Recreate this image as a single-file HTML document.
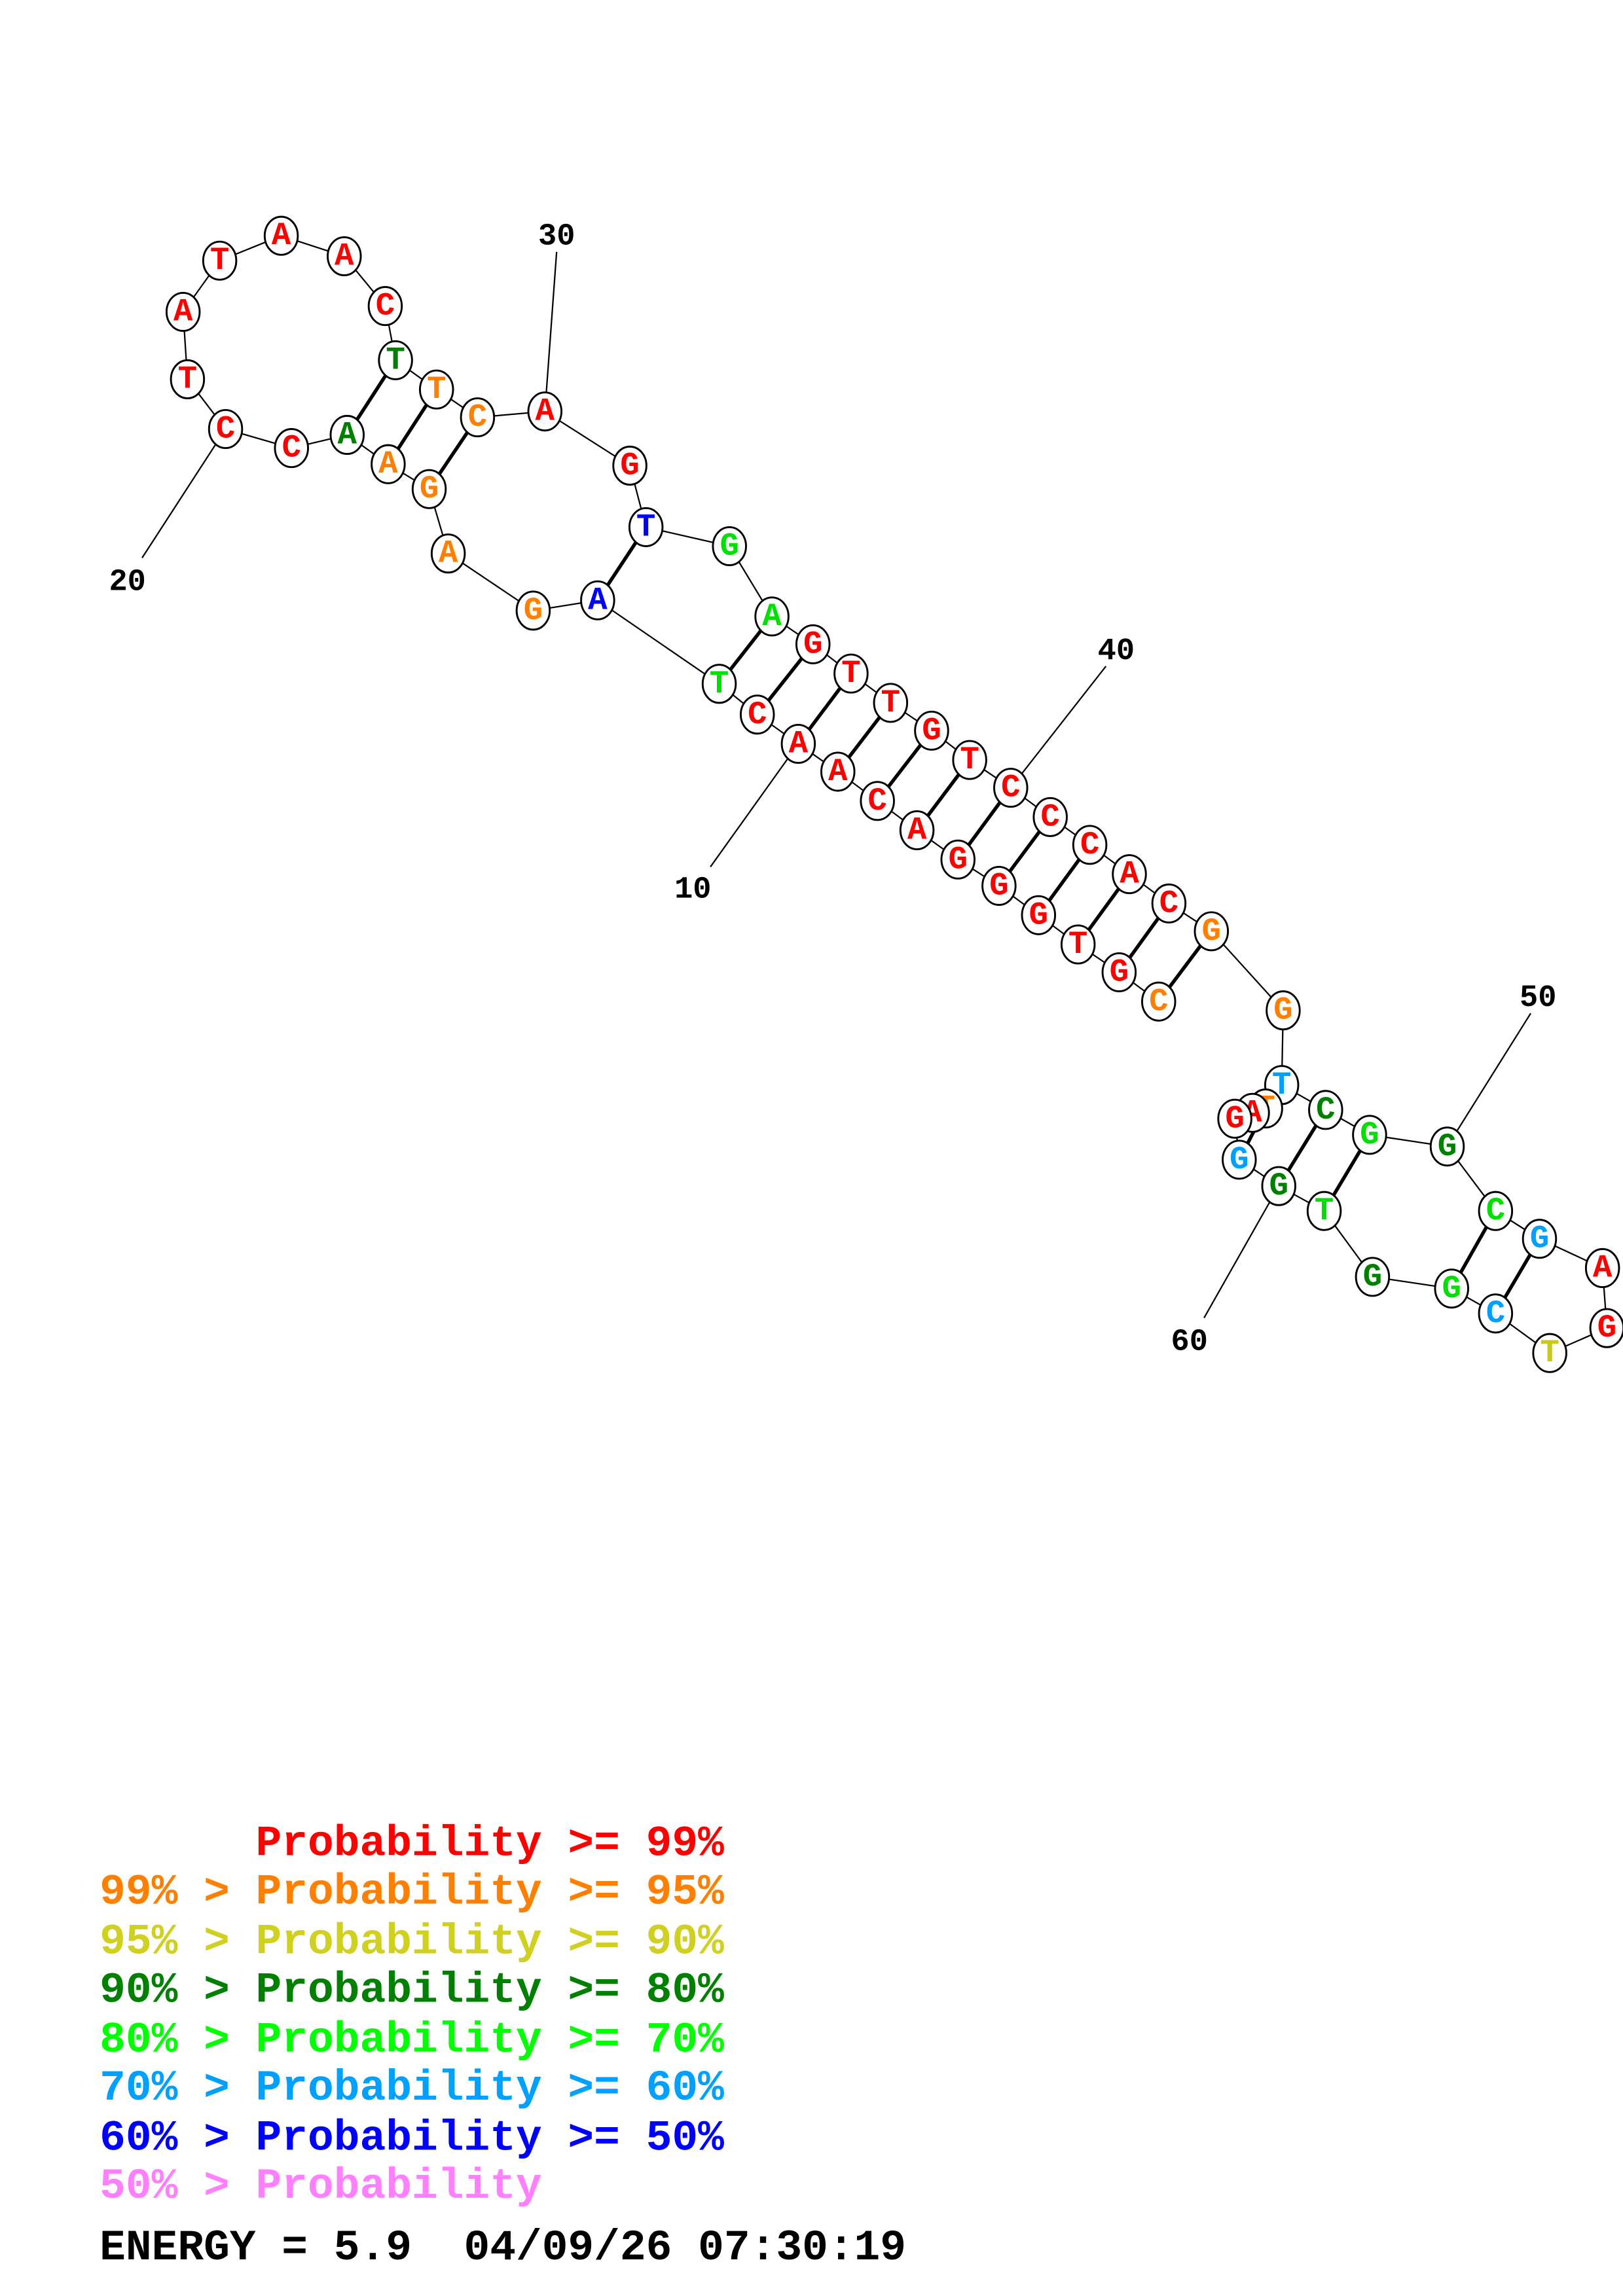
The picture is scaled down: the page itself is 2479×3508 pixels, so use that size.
<!DOCTYPE html>
<html><head><meta charset="utf-8"><style>
html,body{margin:0;padding:0;background:#fff;}
svg{display:block;}
.n text{font-family:"Liberation Mono",monospace;font-weight:bold;font-size:22px;text-anchor:middle;dominant-baseline:central;}
.lb{font-family:"Liberation Mono",monospace;font-weight:bold;font-size:21px;text-anchor:middle;fill:#000;}
.lg{font-family:"Liberation Mono",monospace;font-weight:bold;font-size:29.6px;white-space:pre;}
</style></head><body>
<svg width="2479" height="3508" viewBox="0 0 1108 1568" preserveAspectRatio="none" xmlns="http://www.w3.org/2000/svg">
<g stroke="#000" stroke-width="1" fill="none">
<polyline points="791,684 764,664 736,645 709,625 682,605 654,587 626,567 599,547 572,527 545,508 517,488 491,467 408,410 364,417 306,378 293,334 265,317 237,297 199,306 154,293 128,259 125,213 150,178 192,161 235,175 263,209 270,246 298,266 326,285 372,281 430,318 441,360 498,373 527,421 555,440 581,460 608,480 636,499 662,519 690,538 717,558 744,577 771,597 798,617 827,636 876,690 875,741 905,758 935,775 988,783 1021,827 1051,846 1094,866 1097,907 1058,924 1021,897 991,880 937,872 904,827 873,810 846,792 843,764 855,760 864,757"/>
<line x1="154" y1="293" x2="97" y2="381"/>
<line x1="372" y1="281" x2="380" y2="172"/>
<line x1="690" y1="538" x2="755" y2="455"/>
<line x1="545" y1="508" x2="485" y2="592"/>
<line x1="988" y1="783" x2="1045" y2="692"/>
<line x1="873" y1="810" x2="822" y2="900"/>
</g>
<g stroke="#000" stroke-width="2.4">
<line x1="270" y1="246" x2="237" y2="297"/>
<line x1="298" y1="266" x2="265" y2="317"/>
<line x1="326" y1="285" x2="293" y2="334"/>
<line x1="441" y1="360" x2="408" y2="410"/>
<line x1="527" y1="421" x2="491" y2="467"/>
<line x1="555" y1="440" x2="517" y2="488"/>
<line x1="581" y1="460" x2="545" y2="508"/>
<line x1="608" y1="480" x2="572" y2="527"/>
<line x1="636" y1="499" x2="599" y2="547"/>
<line x1="662" y1="519" x2="626" y2="567"/>
<line x1="690" y1="538" x2="654" y2="587"/>
<line x1="717" y1="558" x2="682" y2="605"/>
<line x1="744" y1="577" x2="709" y2="625"/>
<line x1="771" y1="597" x2="736" y2="645"/>
<line x1="798" y1="617" x2="764" y2="664"/>
<line x1="827" y1="636" x2="791" y2="684"/>
<line x1="905" y1="758" x2="873" y2="810"/>
<line x1="935" y1="775" x2="904" y2="827"/>
<line x1="1021" y1="827" x2="991" y2="880"/>
<line x1="1051" y1="846" x2="1021" y2="897"/>
<line x1="864" y1="757" x2="846" y2="792"/>
</g>
<defs><ellipse id="c" rx="11.3" ry="13" fill="#fff" stroke="#000" stroke-width="1.3"/></defs>
<g class="n">
<g transform="translate(791,684)"><use href="#c"/><text fill="#ff8000">C</text></g>
<g transform="translate(764,664)"><use href="#c"/><text fill="#f00">G</text></g>
<g transform="translate(736,645)"><use href="#c"/><text fill="#f00">T</text></g>
<g transform="translate(709,625)"><use href="#c"/><text fill="#f00">G</text></g>
<g transform="translate(682,605)"><use href="#c"/><text fill="#f00">G</text></g>
<g transform="translate(654,587)"><use href="#c"/><text fill="#f00">G</text></g>
<g transform="translate(626,567)"><use href="#c"/><text fill="#f00">A</text></g>
<g transform="translate(599,547)"><use href="#c"/><text fill="#f00">C</text></g>
<g transform="translate(572,527)"><use href="#c"/><text fill="#f00">A</text></g>
<g transform="translate(545,508)"><use href="#c"/><text fill="#f00">A</text></g>
<g transform="translate(517,488)"><use href="#c"/><text fill="#f00">C</text></g>
<g transform="translate(491,467)"><use href="#c"/><text fill="#00e000">T</text></g>
<g transform="translate(408,410)"><use href="#c"/><text fill="#00f">A</text></g>
<g transform="translate(364,417)"><use href="#c"/><text fill="#ff8000">G</text></g>
<g transform="translate(306,378)"><use href="#c"/><text fill="#ff8000">A</text></g>
<g transform="translate(293,334)"><use href="#c"/><text fill="#ff8000">G</text></g>
<g transform="translate(265,317)"><use href="#c"/><text fill="#ff8000">A</text></g>
<g transform="translate(237,297)"><use href="#c"/><text fill="#008000">A</text></g>
<g transform="translate(199,306)"><use href="#c"/><text fill="#f00">C</text></g>
<g transform="translate(154,293)"><use href="#c"/><text fill="#f00">C</text></g>
<g transform="translate(128,259)"><use href="#c"/><text fill="#f00">T</text></g>
<g transform="translate(125,213)"><use href="#c"/><text fill="#f00">A</text></g>
<g transform="translate(150,178)"><use href="#c"/><text fill="#f00">T</text></g>
<g transform="translate(192,161)"><use href="#c"/><text fill="#f00">A</text></g>
<g transform="translate(235,175)"><use href="#c"/><text fill="#f00">A</text></g>
<g transform="translate(263,209)"><use href="#c"/><text fill="#f00">C</text></g>
<g transform="translate(270,246)"><use href="#c"/><text fill="#008000">T</text></g>
<g transform="translate(298,266)"><use href="#c"/><text fill="#ff8000">T</text></g>
<g transform="translate(326,285)"><use href="#c"/><text fill="#ff8000">C</text></g>
<g transform="translate(372,281)"><use href="#c"/><text fill="#f00">A</text></g>
<g transform="translate(430,318)"><use href="#c"/><text fill="#f00">G</text></g>
<g transform="translate(441,360)"><use href="#c"/><text fill="#00f">T</text></g>
<g transform="translate(498,373)"><use href="#c"/><text fill="#00e000">G</text></g>
<g transform="translate(527,421)"><use href="#c"/><text fill="#00e000">A</text></g>
<g transform="translate(555,440)"><use href="#c"/><text fill="#f00">G</text></g>
<g transform="translate(581,460)"><use href="#c"/><text fill="#f00">T</text></g>
<g transform="translate(608,480)"><use href="#c"/><text fill="#f00">T</text></g>
<g transform="translate(636,499)"><use href="#c"/><text fill="#f00">G</text></g>
<g transform="translate(662,519)"><use href="#c"/><text fill="#f00">T</text></g>
<g transform="translate(690,538)"><use href="#c"/><text fill="#f00">C</text></g>
<g transform="translate(717,558)"><use href="#c"/><text fill="#f00">C</text></g>
<g transform="translate(744,577)"><use href="#c"/><text fill="#f00">C</text></g>
<g transform="translate(771,597)"><use href="#c"/><text fill="#f00">A</text></g>
<g transform="translate(798,617)"><use href="#c"/><text fill="#f00">C</text></g>
<g transform="translate(827,636)"><use href="#c"/><text fill="#ff8000">G</text></g>
<g transform="translate(876,690)"><use href="#c"/><text fill="#ff8000">G</text></g>
<g transform="translate(875,741)"><use href="#c"/><text fill="#00a0ff">T</text></g>
<g transform="translate(905,758)"><use href="#c"/><text fill="#008000">C</text></g>
<g transform="translate(935,775)"><use href="#c"/><text fill="#00e000">G</text></g>
<g transform="translate(988,783)"><use href="#c"/><text fill="#008000">G</text></g>
<g transform="translate(1021,827)"><use href="#c"/><text fill="#00e000">C</text></g>
<g transform="translate(1051,846)"><use href="#c"/><text fill="#00a0ff">G</text></g>
<g transform="translate(1094,866)"><use href="#c"/><text fill="#f00">A</text></g>
<g transform="translate(1097,907)"><use href="#c"/><text fill="#f00">G</text></g>
<g transform="translate(1058,924)"><use href="#c"/><text fill="#c8c820">T</text></g>
<g transform="translate(1021,897)"><use href="#c"/><text fill="#00a0ff">C</text></g>
<g transform="translate(991,880)"><use href="#c"/><text fill="#00e000">G</text></g>
<g transform="translate(937,872)"><use href="#c"/><text fill="#008000">G</text></g>
<g transform="translate(904,827)"><use href="#c"/><text fill="#00e000">T</text></g>
<g transform="translate(873,810)"><use href="#c"/><text fill="#008000">G</text></g>
<g transform="translate(864,757)"><use href="#c"/><text fill="#ff8000">T</text></g>
<g transform="translate(855,760)"><use href="#c"/><text fill="#f00">A</text></g>
<g transform="translate(843,764)"><use href="#c"/><text fill="#f00">G</text></g>
<g transform="translate(846,792)"><use href="#c"/><text fill="#00a0ff">G</text></g>
</g>
<text class="lb" x="87" y="403">20</text>
<text class="lb" x="380" y="167">30</text>
<text class="lb" x="762" y="450">40</text>
<text class="lb" x="473" y="613">10</text>
<text class="lb" x="1050" y="687">50</text>
<text class="lb" x="812" y="922">60</text>
<text class="lg" x="68" y="1267" fill="#f00">      Probability &gt;= 99%</text>
<text class="lg" x="68" y="1300" fill="#ff8000">99% &gt; Probability &gt;= 95%</text>
<text class="lg" x="68" y="1334" fill="#d0d020">95% &gt; Probability &gt;= 90%</text>
<text class="lg" x="68" y="1367" fill="#008000">90% &gt; Probability &gt;= 80%</text>
<text class="lg" x="68" y="1401" fill="#00ff00">80% &gt; Probability &gt;= 70%</text>
<text class="lg" x="68" y="1434" fill="#00a0ff">70% &gt; Probability &gt;= 60%</text>
<text class="lg" x="68" y="1468" fill="#0000ff">60% &gt; Probability &gt;= 50%</text>
<text class="lg" x="68" y="1501" fill="#ff80ff">50% &gt; Probability</text>
<text class="lg" x="68" y="1543" fill="#000">ENERGY = 5.9  04/09/26 07:30:19</text>
</svg>
</body></html>
